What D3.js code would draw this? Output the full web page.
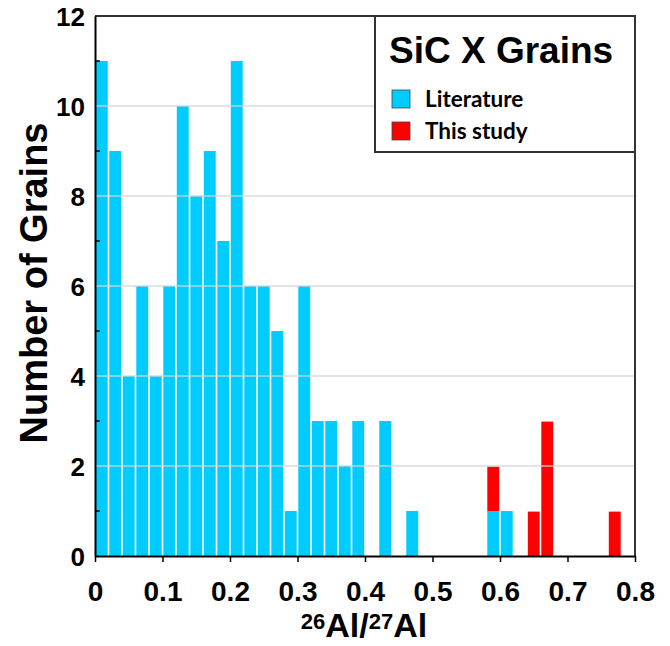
<!DOCTYPE html>
<html>
<head>
<meta charset="utf-8">
<script src="https://cdn.jsdelivr.net/npm/d3@7"></script>
<style>
  html, body { margin: 0; padding: 0; background: #fff; }
  svg { display: block; }
</style>
</head>
<body>
<svg id="chart" width="670" height="646"></svg>
<script>
// ---- DATA ----
const binLower = [0.00,0.02,0.04,0.06,0.08,0.10,0.12,0.14,0.16,0.18,
                  0.20,0.22,0.24,0.26,0.28,0.30,0.32,0.34,0.36,0.38,
                  0.40,0.42,0.44,0.46,0.48,0.50,0.52,0.54,0.56,0.58,
                  0.60,0.62,0.64,0.66,0.68,0.70,0.72,0.74,0.76,0.78];
const binWidth = 0.02;
const literature = [11,9,4,6,4,6,10,8,9,7,
                    11,6,6,5,1,6,3,3,2,3,
                    0,3,0,1,0,0,0,0,0,1,
                    1,0,0,0,0,0,0,0,0,0];
const thisStudy  = [0,0,0,0,0,0,0,0,0,0,
                    0,0,0,0,0,0,0,0,0,0,
                    0,0,0,0,0,0,0,0,0,1,
                    0,0,1,3,0,0,0,0,1,0];
const seriesNames = ["Literature", "This study"];
const seriesColors = ["#00CCFF", "#FF0000"];
const xTicks = [0,0.1,0.2,0.3,0.4,0.5,0.6,0.7,0.8];
const yLabelTicks = [0,2,4,6,8,10,12];
const yMinorTicks = [1,3,5,7,9,11];
const gridValues = [2,4,6,8,10];

// ---- LAYOUT ----
const svg = d3.select("#chart");
const pLeft = 95, pRight = 635, pTop = 16, pBottom = 556;
const x = d3.scaleLinear().domain([0, 0.8]).range([pLeft, pRight]);
const y = d3.scaleLinear().domain([0, 12]).range([pBottom, pTop]);

const rows = binLower.map((b, i) => ({ b, Literature: literature[i], "This study": thisStudy[i] }));
const stacked = d3.stack().keys(seriesNames)(rows);

// bars
const gap = 0.8;
stacked.forEach((s, si) => {
  svg.append("g").selectAll("rect")
    .data(s.filter(d => d[1] - d[0] > 0))
    .join("rect")
    .attr("x", d => x(d.data.b) + gap)
    .attr("width", d => x(d.data.b + binWidth) - x(d.data.b) - 2 * gap)
    .attr("y", d => y(d[1]) + (si > 0 ? 0.6 : 0))
    .attr("height", d => y(d[0]) - y(d[1]) - (si > 0 ? 0.6 : 0))
    .attr("fill", seriesColors[si]);
});

// gridlines (drawn over bars)
svg.append("g").selectAll("line")
  .data(gridValues).join("line")
  .attr("x1", pLeft).attr("x2", pRight)
  .attr("y1", d => y(d)).attr("y2", d => y(d))
  .attr("stroke", "#d4d4d4").attr("stroke-opacity", 0.85).attr("stroke-width", 1.3);

// frame top/right
svg.append("line").attr("x1", pLeft).attr("x2", pRight).attr("y1", pTop).attr("y2", pTop)
  .attr("stroke", "#333").attr("stroke-width", 2);
svg.append("line").attr("x1", pRight).attr("x2", pRight).attr("y1", pTop).attr("y2", pBottom)
  .attr("stroke", "#333").attr("stroke-width", 2);

// x axis
const xAxis = svg.append("g").attr("transform", `translate(0,${pBottom})`)
  .call(d3.axisBottom(x).tickValues(xTicks).tickSize(6).tickSizeOuter(0)
        .tickFormat(d => d === 0 ? "0" : d3.format(".1f")(d)));
xAxis.select(".domain").attr("stroke", "#000").attr("stroke-width", 2);
xAxis.selectAll(".tick line").attr("stroke", "#000").attr("stroke-width", 1.5);
xAxis.selectAll(".tick text")
  .attr("y", 0).attr("dy", 45)
  .style("font-family", "'Liberation Sans', Arial, sans-serif")
  .style("font-weight", "bold").style("font-size", "28px").attr("fill", "#000");

// y axis
const yAxis = svg.append("g").attr("transform", `translate(${pLeft},0)`)
  .call(d3.axisLeft(y).tickValues(yLabelTicks).tickSize(0).tickSizeOuter(0).tickPadding(10));
yAxis.select(".domain").attr("stroke", "#000").attr("stroke-width", 2);
yAxis.selectAll(".tick text")
  .attr("dy", "0.36em")
  .style("font-family", "'Liberation Sans', Arial, sans-serif")
  .style("font-weight", "bold").style("font-size", "26px").attr("fill", "#000");
// minor inward ticks
svg.append("g").selectAll("line")
  .data(yMinorTicks).join("line")
  .attr("x1", pLeft).attr("x2", pLeft + 5)
  .attr("y1", d => y(d)).attr("y2", d => y(d))
  .attr("stroke", "#000").attr("stroke-width", 1.5);

// axis titles
svg.append("text")
  .attr("transform", `translate(47,283) rotate(-90)`)
  .attr("text-anchor", "middle")
  .style("font-family", "'Liberation Sans', Arial, sans-serif")
  .style("font-weight", "bold").style("font-size", "38px")
  .text("Number of Grains");

const xt = svg.append("text")
  .attr("x", 364).attr("y", 637)
  .attr("text-anchor", "middle")
  .style("font-family", "'Liberation Sans', Arial, sans-serif")
  .style("font-weight", "bold").style("font-size", "34px");
xt.append("tspan").attr("baseline-shift", "36%").style("font-size", "22px").text("26");
xt.append("tspan").text("Al/");
xt.append("tspan").attr("baseline-shift", "36%").style("font-size", "22px").text("27");
xt.append("tspan").text("Al");

// legend
const lg = svg.append("g");
lg.append("rect").attr("x", 375).attr("y", pTop).attr("width", pRight - 375).attr("height", 152 - pTop)
  .attr("fill", "#fff").attr("stroke", "#333").attr("stroke-width", 2);
lg.append("text").attr("x", 389).attr("y", 63)
  .style("font-family", "'Liberation Sans', Arial, sans-serif")
  .style("font-weight", "bold").style("font-size", "37px")
  .text("SiC X Grains");
seriesNames.forEach((name, i) => {
  const yy = 90 + i * 32;
  lg.append("rect").attr("x", 392).attr("y", yy).attr("width", 18).attr("height", 18)
    .attr("fill", seriesColors[i]).attr("stroke", "#444").attr("stroke-width", 0.8);
  lg.append("text").attr("x", 425).attr("y", yy + 17)
    .style("font-family", "Lato, 'Open Sans', sans-serif")
    .style("font-weight", "bold").style("font-size", "22.5px")
    .text(name);
});
</script>
</body>
</html>
